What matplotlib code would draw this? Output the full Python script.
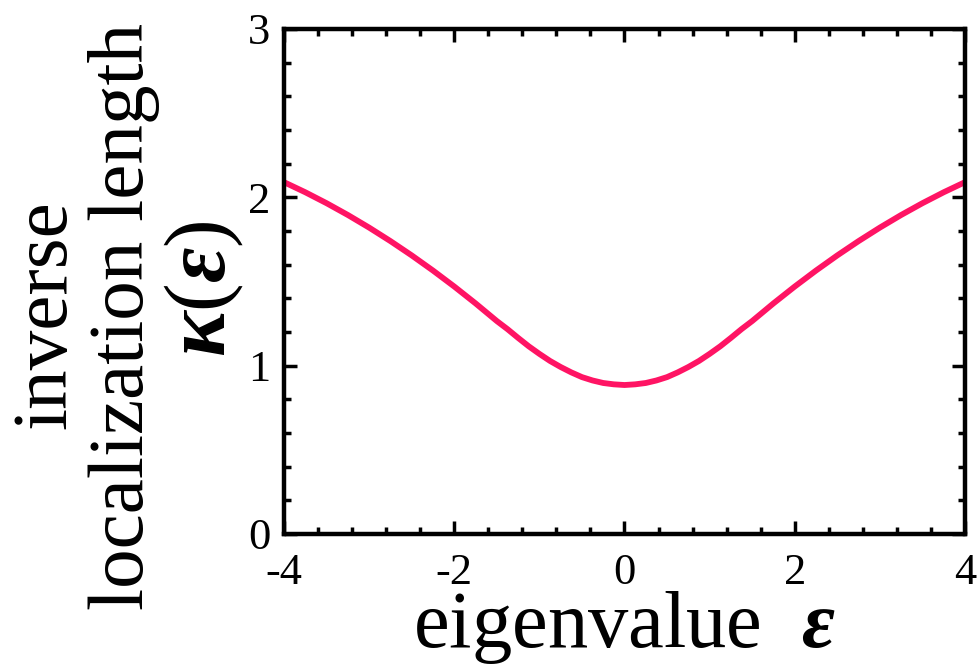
import numpy as np
import matplotlib
matplotlib.use('Agg')
import matplotlib.pyplot as plt
from matplotlib.ticker import MultipleLocator

# valores
eps = [-4.0, -3.75, -3.5, -3.25, -3.0, -2.75, -2.5, -2.25, -2.0, -1.75,
       -1.5, -1.375, -1.25, -1.125, -1.0, -0.875, -0.75, -0.625, -0.5,
       -0.375, -0.25, -0.125, 0.0,
       0.125, 0.25, 0.375, 0.5, 0.625, 0.75, 0.875, 1.0, 1.125, 1.25, 1.375,
       1.5, 1.75, 2.0, 2.25, 2.5, 2.75, 3.0, 3.25, 3.5, 3.75, 4.0]
kappa = [2.09, 2.03, 1.965, 1.895, 1.82, 1.74, 1.655, 1.565, 1.47, 1.37,
         1.265, 1.217, 1.165, 1.115, 1.07, 1.028, 0.992, 0.960, 0.932,
         0.912, 0.897, 0.889, 0.885,
         0.889, 0.897, 0.912, 0.932, 0.960, 0.992, 1.028, 1.07, 1.115, 1.165,
         1.217, 1.265, 1.37, 1.47, 1.565, 1.655, 1.74, 1.82, 1.895, 1.965,
         2.03, 2.09]
xticks = [-4, -2, 0, 2, 4]
yticks = [0, 1, 2, 3]

plt.rcParams['font.family'] = ['Liberation Serif', 'DejaVu Serif']
plt.rcParams['axes.unicode_minus'] = False
plt.rcParams['mathtext.fontset'] = 'custom'
plt.rcParams['mathtext.rm'] = 'Liberation Serif'
plt.rcParams['mathtext.it'] = 'Liberation Serif:italic'
plt.rcParams['mathtext.bf'] = 'Liberation Serif:bold'
plt.rcParams['mathtext.bfit'] = 'Liberation Serif:italic:bold'

fig = plt.figure(figsize=(9.77, 6.66), dpi=100)
ax = fig.add_axes([0.2907, 0.1982, 0.6970, 0.7583])

ax.plot(eps, kappa, color='#ff1464', lw=4.2, solid_joinstyle='round')

ax.set_xlim(-4, 4)
ax.set_ylim(0, 3)
ax.set_xticks(xticks)
ax.set_yticks(yticks)
ax.xaxis.set_minor_locator(MultipleLocator(0.4))
ax.yaxis.set_minor_locator(MultipleLocator(0.2))

for s in ax.spines.values():
    s.set_linewidth(3.2)
ax.tick_params(which='both', direction='in', top=True, right=True, width=2.5,
               labelsize=32)
ax.tick_params(which='major', length=9.5)
ax.tick_params(which='minor', length=5)
ax.tick_params(axis='x', pad=14)
ax.tick_params(axis='y', pad=10)

ax.set_xlabel('eigenvalue  $\\mathbfit{ε}$', fontsize=58, labelpad=-3)

# etiqueta del eje y en tres lineas
fig.text(65 / 977, 1 - 315 / 666, 'inverse', rotation=90, fontsize=57,
         ha='center', va='baseline', rotation_mode='anchor')
fig.text(143 / 977, 1 - 316 / 666, 'localization length', rotation=90,
         fontsize=57, ha='center', va='baseline', rotation_mode='anchor')
fig.text(225 / 977, 1 - 289 / 666, '$\\mathbfit{κ}(\\mathbfit{ε})$',
         rotation=90, fontsize=62, ha='center', va='baseline',
         rotation_mode='anchor')

fig.savefig('out.png', dpi=100)
